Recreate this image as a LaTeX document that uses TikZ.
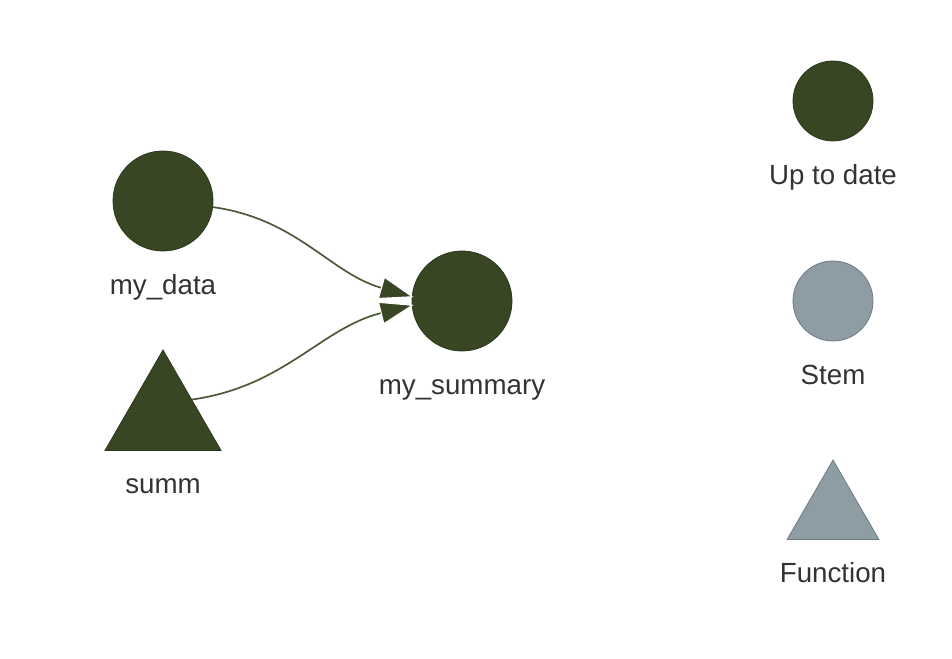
\documentclass[tikz,border=0pt]{standalone}
\usepackage{fontspec}
\setmainfont{Liberation Sans}
\usetikzlibrary{calc,shapes.geometric,arrows.meta}
\definecolor{uptodate}{HTML}{384624}
\definecolor{uptodateline}{HTML}{2C381C}
\definecolor{stemgrey}{HTML}{8E9DA4}
\definecolor{stemline}{HTML}{6C7C85}
\definecolor{txtgrey}{HTML}{333333}
\begin{document}
\begin{tikzpicture}[x=1pt,y=1pt,
	dot/.style={circle,draw=uptodateline,fill=uptodate,line width=0.8pt,inner sep=0pt,minimum size=#1},
	greydot/.style={circle,draw=stemline,fill=stemgrey,line width=0.8pt,inner sep=0pt,minimum size=#1},
	tri/.style={regular polygon,regular polygon sides=3,draw=uptodateline,fill=uptodate,line width=0.8pt,inner sep=0pt,minimum size=#1},
	greytri/.style={regular polygon,regular polygon sides=3,draw=stemline,fill=stemgrey,line width=0.8pt,inner sep=0pt,minimum size=#1},
	txt/.style={anchor=base,inner sep=0pt,text=txtgrey,font=\fontsize{27.7}{32}\selectfont},
	edge/.style={draw=uptodate!90!white,line width=1.7pt,-{Triangle[length=34pt,width=23pt,line width=1pt,color=white,fill=uptodate,sep=-2pt]}}]
		\useasboundingbox (0,0) rectangle (952,658);
		% graph
		\node[dot=100pt] (data) at (163,457) {};
		\node[dot=100pt] (summary) at (462,357) {};
		\node[tri=134pt] (summ) at (163,241) {};
		\node[txt] (datatxt) at ($(data.south) + (0,-43)$) {my\_data};
		\node[txt] (summtxt) at ($(summ.side 2) + (0,-43)$) {summ};
		\node[txt] (summarytxt) at ($(summary.south) + (0,-43)$) {my\_summary};
		\draw[edge] (data.-7) to[out=-8,in=164] (summary.175);
		\draw[edge] (summ.31) to[out=8,in=194] (summary.185);
		% legend
		\node[dot=80pt] (legdate) at (833,557) {};
		\node[greydot=80pt] (legstem) at (833,357) {};
		\node[greytri=106pt] (legfun) at (833,145) {};
		\node[txt] (legdatetxt) at ($(legdate.south) + (0,-43)$) {Up to date};
		\node[txt] (legstemtxt) at ($(legstem.south) + (0,-43)$) {Stem};
		\node[txt] (legfuntxt) at ($(legfun.side 2) + (0,-43)$) {Function};
		\end{tikzpicture}
\end{document}
